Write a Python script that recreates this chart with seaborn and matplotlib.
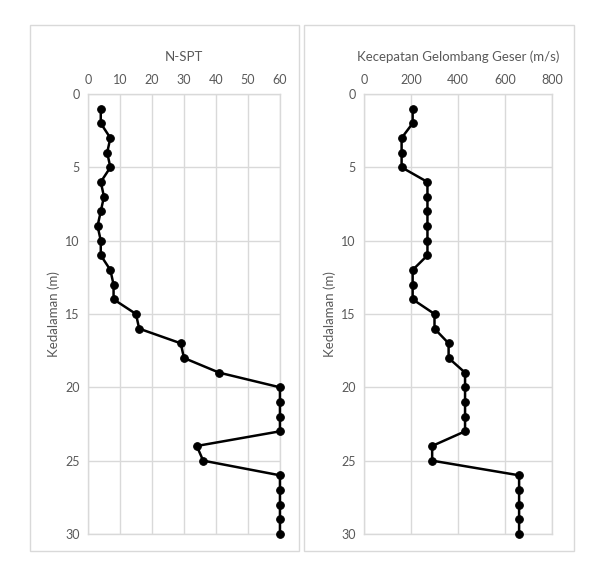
import matplotlib
matplotlib.use("Agg")
import matplotlib.pyplot as plt
from matplotlib.patches import Rectangle
import seaborn as sns
import pandas as pd

# depth profile data
depth = list(range(1, 31))
nspt = [4, 4, 7, 6, 7, 4, 5, 4, 3, 4,
        4, 7, 8, 8, 15, 16, 29, 30, 41, 60,
        60, 60, 60, 34, 36, 60, 60, 60, 60, 60]
vs = [207, 207, 160, 160, 160, 270, 270, 270, 270, 270,
      270, 207, 207, 207, 300, 300, 360, 360, 430, 430,
      430, 430, 430, 290, 290, 660, 660, 660, 660, 660]

titles = ["N-SPT", "Kecepatan Gelombang Geser (m/s)"]
xlims = [(0, 60), (0, 800)]
xticks = [list(range(0, 61, 10)), list(range(0, 801, 200))]
yticks = [0, 5, 10, 15, 20, 25, 30]

sns.set_theme(style="white")
plt.rcParams['font.family'] = ['Lato', 'DejaVu Sans']

txt = "#595959"
grid = "#d9d9d9"

fig = plt.figure(figsize=(5.94, 5.70), dpi=100)

# panel frames like the excel chart areas
for left, width in [(0.0505, 0.4529), (0.5118, 0.4545)]:
    fig.add_artist(Rectangle((left, 0.0333), width, 0.9228, transform=fig.transFigure,
                             fill=False, edgecolor=grid, linewidth=1.0))

axes = [fig.add_axes([0.1481, 0.0632, 0.3232, 0.7719]),
        fig.add_axes([0.6128, 0.0632, 0.3165, 0.7719])]

df = pd.DataFrame({"depth": depth, "nspt": nspt, "vs": vs})

for ax, col, title, xl, xt in zip(axes, ["nspt", "vs"], titles, xlims, xticks):
    sns.lineplot(data=df, x=col, y="depth", sort=False, estimator=None,
                 color="black", linewidth=1.8, marker="o", markersize=5.5,
                 markeredgecolor="black", clip_on=False, zorder=5, ax=ax)
    ax.set_xlim(*xl)
    ax.set_ylim(30, 0)
    ax.set_xticks(xt)
    ax.set_yticks(yticks)
    ax.xaxis.tick_top()
    ax.xaxis.set_label_position("top")
    ax.set_xlabel(title, color=txt, fontsize=9.5, labelpad=9)
    ax.set_ylabel("Kedalaman (m)", color=txt, fontsize=9.5, labelpad=4)
    ax.tick_params(axis="both", colors=txt, labelsize=9, length=0, pad=6)
    ax.grid(True, color=grid, linewidth=1.0)
    for s in ax.spines.values():
        s.set_color(grid)
        s.set_linewidth(1.0)

fig.savefig("out.png", dpi=100)
